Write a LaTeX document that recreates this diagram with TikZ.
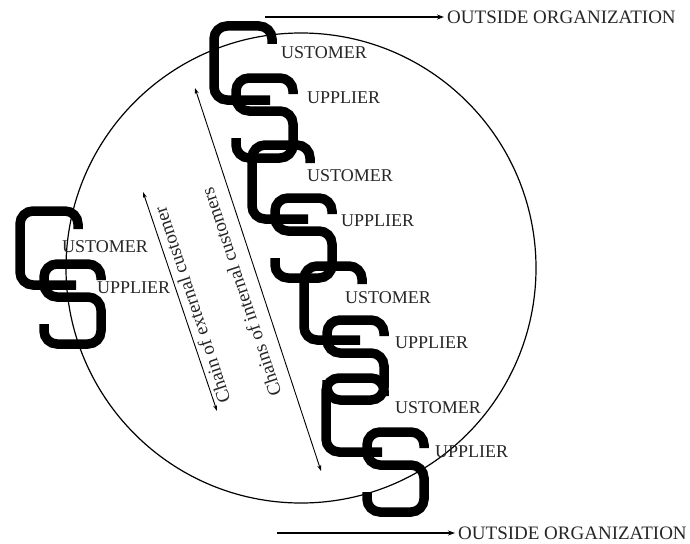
\documentclass[tikz,border=0pt]{standalone}
\usepackage{fontspec}
\setmainfont{Liberation Serif}
\usetikzlibrary{arrows.meta}

\tikzset{
  glyph/.style={line width=9.5pt, rounded corners=13pt, draw=black},
  lbl/.style={font=\fontsize{18}{20}\selectfont, text=black!85, inner sep=0pt, anchor=west},
  outlbl/.style={lbl, font=\fontsize{19}{21}\selectfont, inner xsep=3pt},
  chainlbl/.style={font=\fontsize{19}{21}\selectfont, text=black!85, inner sep=0pt, rotate=108.5},
  chainarrow/.style={line width=0.9pt, {Stealth[length=6pt,width=4pt]}-{Stealth[length=6pt,width=4pt]}},
  outarrow/.style={line width=1.1pt, -{Stealth[length=7pt,width=5pt]}},
  bigC/.pic={\draw[glyph] (58,18) -- (58,0) -- (0,0) -- (0,74) -- (56,74);},
  bigS/.pic={\draw[glyph] (57,16) -- (57,0) -- (0,0) -- (0,33) -- (57,33) -- (57,80) -- (0,80) -- (0,60);}
}

\begin{document}
\begin{tikzpicture}[x=1pt, y=-1pt]
  \useasboundingbox (0,0) rectangle (690,543);

  % the organization
  \draw[line width=1.2pt] (301,268) circle[radius=235pt];

  % customer / supplier outside the organization
  \pic at (20,211) {bigC};
  \pic at (44,264) {bigS};
  \node[lbl] (cust0) at (62,247) {USTOMER};
  \node[lbl] (supp0) at (97,288) {UPPLIER};

  % chain of customer / supplier pairs inside
  \pic at (214,26) {bigC};
  \pic at (236,78) {bigS};
  \pic at (252,145) {bigC};
  \pic at (275,198) {bigS};
  \pic at (304,266) {bigC};
  \pic at (327,320) {bigS};
  \pic at (326,378) {bigC};
  \pic at (367,432) {bigS};

  \node[lbl] (cust1) at (281,53) {USTOMER};
  \node[lbl] (supp1) at (307,98) {UPPLIER};
  \node[lbl] (cust2) at (307,176) {USTOMER};
  \node[lbl] (supp2) at (341,221) {UPPLIER};
  \node[lbl] (cust3) at (345,298) {USTOMER};
  \node[lbl] (supp3) at (395,343) {UPPLIER};
  \node[lbl] (cust4) at (395,408) {USTOMER};
  \node[lbl] (supp4) at (435,452) {UPPLIER};

  % links to the outside organization
  \coordinate (topstart) at (265,17);
  \node[outlbl] (outtop) at (444,17) {OUTSIDE ORGANIZATION};
  \draw[outarrow] (topstart) -- (outtop.west);
  \coordinate (botstart) at (277,533);
  \node[outlbl] (outbot) at (455,533) {OUTSIDE ORGANIZATION};
  \draw[outarrow] (botstart) -- (outbot.west);

  % the two chains
  \coordinate (extlow) at (217,411);
  \coordinate (exthigh) at (143,192);
  \draw[chainarrow] (extlow) -- (exthigh);
  \node[chainlbl] (extlbl) at (192,305) {Chain of external customer};

  \coordinate (intlow) at (321,471);
  \coordinate (inthigh) at (195,88);
  \draw[chainarrow] (intlow) -- (inthigh);
  \node[chainlbl] (intlbl) at (241,292) {Chains of internal customers};
\end{tikzpicture}
\end{document}
